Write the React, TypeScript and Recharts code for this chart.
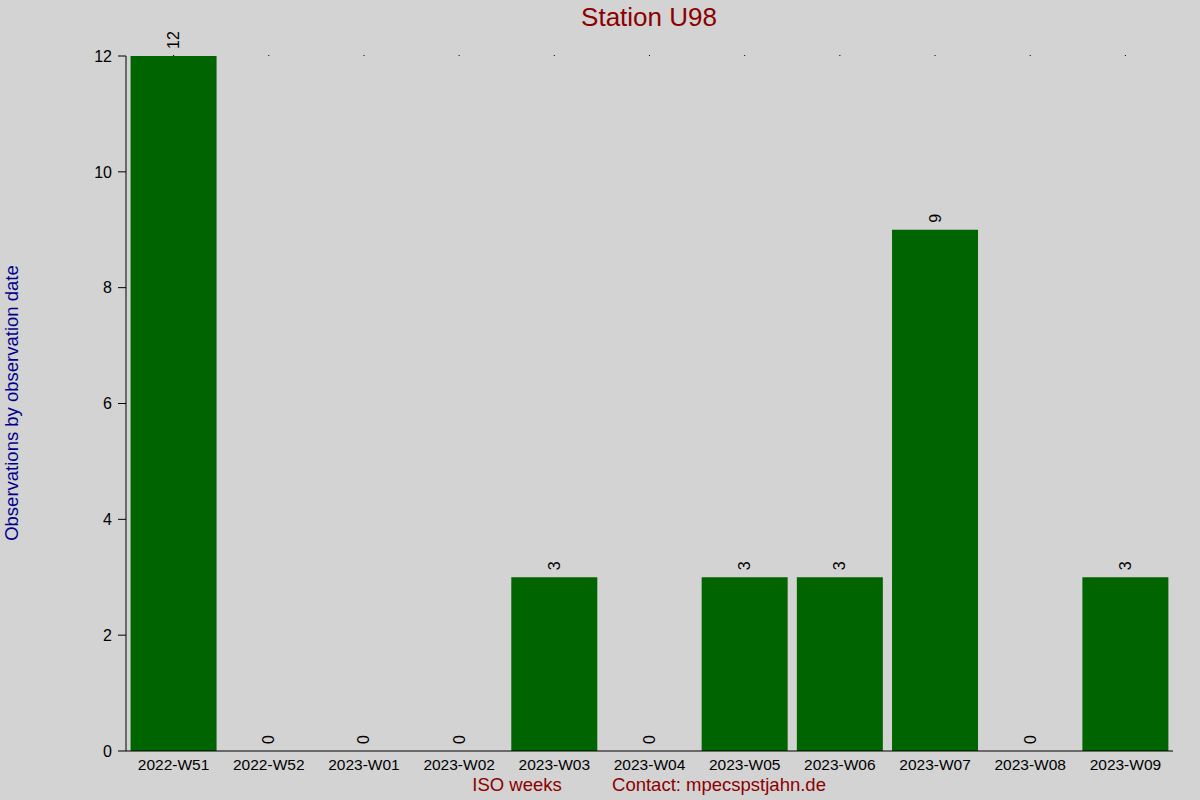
import React from 'react';
import { ComposedChart, Bar, Scatter, XAxis, YAxis } from 'recharts';

const weeks = [
  '2022-W51', '2022-W52', '2023-W01', '2023-W02', '2023-W03', '2023-W04',
  '2023-W05', '2023-W06', '2023-W07', '2023-W08', '2023-W09',
];
const observations = [12, 0, 0, 0, 3, 0, 3, 3, 9, 0, 3];
const yTicks = [0, 2, 4, 6, 8, 10, 12];

const data = weeks.map((week, i) => ({ week, count: observations[i] }));

const FONT = '"Liberation Sans", Arial, sans-serif';

// rotated value above each bar, drawn also for zero-height bars
const ValueLabel = (props: any) => {
  const { cx, cy, payload } = props;
  const ty = cy - 7;
  return (
    <text
      x={cx}
      y={ty}
      transform={`rotate(-90, ${cx}, ${ty})`}
      textAnchor="start"
      dominantBaseline="central"
      fontSize={16}
      fontFamily={FONT}
      fill="#000"
    >
      {payload.count}
    </text>
  );
};

const App: React.FC = () => {
  return (
    <div style={{ position: 'absolute', left: 0, top: 0, width: 1200, height: 800, background: '#d3d3d3', fontFamily: FONT }}>
      <div style={{ position: 'absolute', left: 449, width: 400, top: 2, textAlign: 'center', fontSize: 26, color: '#8b0000' }}>
        Station U98
      </div>
      <div
        style={{
          position: 'absolute', left: 12, top: 403, width: 400, textAlign: 'center',
          transform: 'translate(-50%, -50%) rotate(-90deg)', fontSize: 18.5, color: '#00008b', whiteSpace: 'nowrap',
        }}
      >
        Observations by observation date
      </div>
      <div style={{ position: 'absolute', left: 417, width: 200, top: 774, textAlign: 'center', fontSize: 18.5, color: '#8b0000' }}>
        ISO weeks
      </div>
      <div style={{ position: 'absolute', left: 569, width: 300, top: 774, textAlign: 'center', fontSize: 18.5, color: '#8b0000' }}>
        Contact: mpecspstjahn.de
      </div>
      <div style={{ position: 'absolute', left: 0, top: 0 }}>
        <ComposedChart
          width={1200}
          height={800}
          data={data}
          margin={{ top: 55, right: 27, bottom: 19, left: 66 }}
          barCategoryGap="4.8%"
        >
          <XAxis
            dataKey="week"
            xAxisId="top"
            orientation="top"
            height={1}
            axisLine={false}
            tickSize={1}
            tickLine={{ stroke: '#000' }}
            tick={() => <g />}
            interval={0}
          />
          <XAxis
            dataKey="week"
            height={30}
            tickLine={false}
            axisLine={{ stroke: '#000' }}
            tick={{ fontSize: 15.5, fill: '#000', fontFamily: FONT }}
            interval={0}
          />
          <YAxis
            width={60}
            domain={[0, 12]}
            ticks={yTicks}
            tickSize={8}
            tickMargin={6}
            tickLine={{ stroke: '#000' }}
            axisLine={{ stroke: '#000' }}
            tick={{ fontSize: 16, fill: '#000', fontFamily: FONT }}
          />
          <Bar dataKey="count" fill="#006400" isAnimationActive={false} />
          <Scatter dataKey="count" shape={ValueLabel} isAnimationActive={false} />
        </ComposedChart>
      </div>
    </div>
  );
};

export default App;
